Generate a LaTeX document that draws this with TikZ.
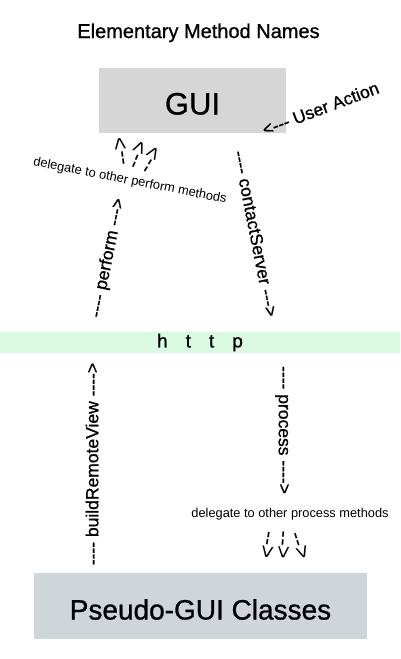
\documentclass[tikz,border=0pt]{standalone}
\usepackage{fontspec}
\setmainfont{Liberation Sans}[Ligatures=TeXOff]
\newfontfamily\heavy{Liberation Sans}[Ligatures=TeXOff, FakeBold=0.9]
\definecolor{guigray}{RGB}{214,214,214}
\definecolor{pseudogray}{RGB}{206,214,218}
\definecolor{httpgreen}{RGB}{218,250,226}
\newcommand{\fs}[1]{\fontsize{#1}{#1}\selectfont}

\begin{document}
\begin{tikzpicture}[x=1pt,y=-1pt,
  lbl/.style={font=\heavy\fs{17.5}, inner sep=0pt},
  tiny/.style={font=\fs{22}, inner sep=0pt},
  note/.style={font=\fs{12.8}, inner sep=0pt}]
  \useasboundingbox (0,0) rectangle (400,659);
  \node[anchor=base, font=\heavy\fs{20}] (title) at (198.5,38) {Elementary Method Names};
  \node[fill=guigray, minimum width=187pt, minimum height=65pt, font=\heavy\fs{31}, text height=28pt, text depth=0pt] (gui) at (192.5,100.5) {GUI};
  \node[fill=httpgreen, minimum width=400pt, minimum height=21pt, inner sep=0pt, font=\heavy\fs{19}] (http) at (200,342.5) {h\hspace{18pt}t\hspace{18pt}t\hspace{18pt}p};
  \node[fill=pseudogray, minimum width=333pt, minimum height=66pt, font=\heavy\fs{28}, text height=27pt, text depth=0pt] (pgui) at (200.5,606) {Pseudo-GUI Classes};
  \node[lbl, rotate=20.6] (user) at (320.5,108.5) {<--- User Action};
  \node[lbl, rotate=78.7] (perform) at (108,258) {---- perform --->};
  \node[lbl, rotate=-78.8] (contact) at (255.5,233.5) {---- contactServer --->};
  \node[lbl, rotate=90] (build) at (92,464) {---- buildRemoteView ---->};
  \node[lbl, rotate=-90] (process) at (282,430) {---- process ---->};
  \node[note, rotate=-11] (delperf) at (130,181) {delegate to other perform methods};
  \node[note] (delproc) at (290,514) {delegate to other process methods};
  \node[tiny, rotate=97] (up1) at (121.5,151.5) {-->};
  \node[tiny, rotate=66] (up2) at (137.5,155) {-->};
  \node[tiny, rotate=59] (up3) at (151,160) {-->};
  \node[tiny, rotate=-99.5] (dn1) at (267.5,545) {-->};
  \node[tiny, rotate=-94] (dn2) at (283,545) {-->};
  \node[tiny, rotate=-72] (dn3) at (299.5,546) {-->};
\end{tikzpicture}
\end{document}
